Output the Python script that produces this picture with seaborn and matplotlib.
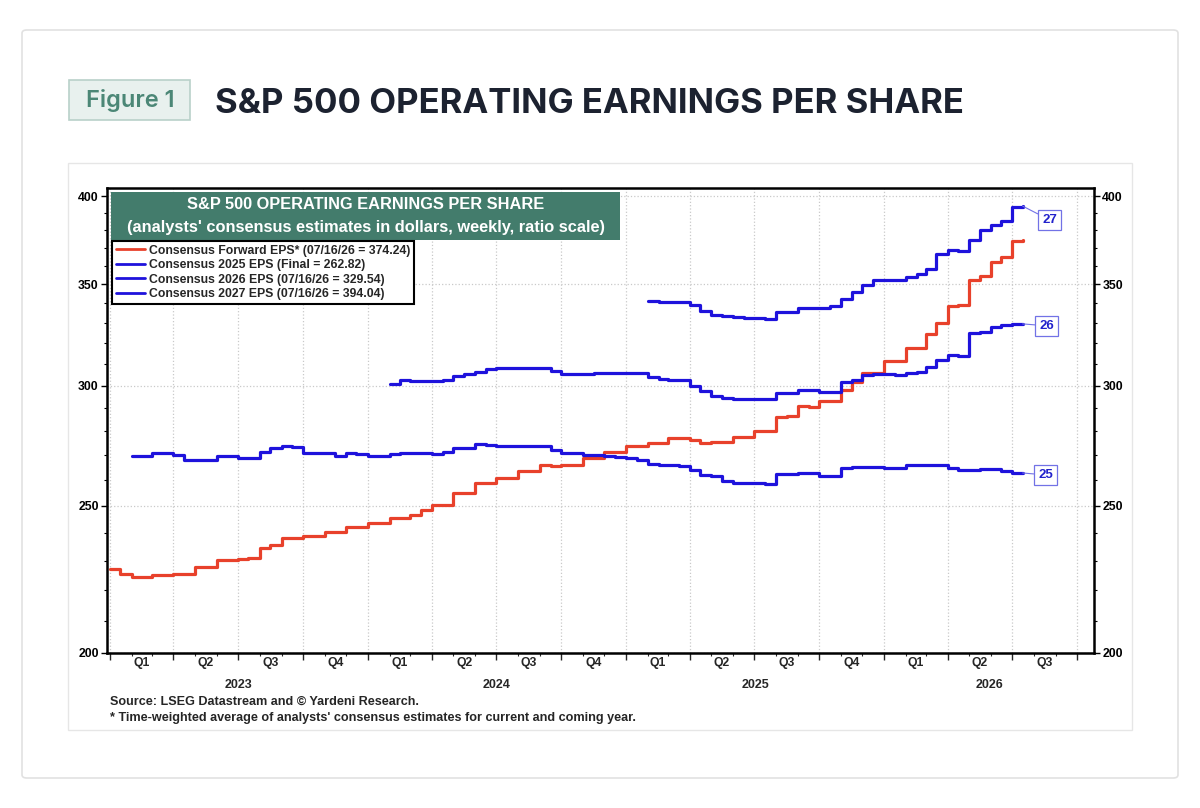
import matplotlib
matplotlib.use('Agg')
import matplotlib.pyplot as plt
import matplotlib.dates as mdates
from matplotlib.patches import Rectangle, FancyBboxPatch
from matplotlib.lines import Line2D
from matplotlib.ticker import FixedLocator, FuncFormatter, NullFormatter
from matplotlib.transforms import blended_transform_factory
import seaborn as sns
import pandas as pd

# --- data: half-month levels (1st / 16th), last value = 07/16/26 reading ---
end_date = '2026-07-16'

fwd_start = '2023-01-01'
fwd_eps = [227.3, 225.5, 224.3, 224.3, 225.0, 225.0, 225.6, 225.6, 227.8, 227.8, 230.4, 230.4,
           230.5, 231.0, 234.5, 235.5, 238.0, 238.0, 239.0, 239.0, 240.3, 240.3, 242.0, 242.0,
           243.5, 243.5, 245.5, 245.5, 246.5, 248.4, 250.4, 250.4, 255.0, 255.0, 259.0, 259.0,
           261.0, 261.0, 263.5, 263.5, 266.0, 265.5, 266.0, 266.0, 268.7, 268.7, 271.5, 271.5,
           273.7, 273.7, 275.0, 275.0, 277.0, 277.0, 276.5, 275.0, 275.5, 275.5, 277.5, 277.5,
           280.0, 280.0, 286.0, 286.5, 291.0, 290.5, 293.0, 293.0, 298.0, 301.5, 306.0, 306.0,
           311.5, 311.5, 317.5, 317.5, 324.5, 330.0, 338.5, 339.0, 352.0, 354.5, 362.0, 364.5,
           373.5, 374.24]

eps25_start = '2023-02-01'
eps25 = [269.8, 269.5, 271.0, 271.0, 270.0, 268.0, 268.0, 268.0, 269.8, 269.8,
         269.0, 269.0, 271.5, 273.0, 274.0, 273.5, 271.0, 271.0, 271.0, 269.5, 271.0, 270.5,
         269.5, 269.5, 270.5, 271.0, 271.0, 270.8, 270.5, 271.5, 273.0, 273.0, 274.5, 274.3,
         274.0, 274.0, 274.0, 274.0, 274.0, 272.0, 270.8, 270.8, 270.0, 270.0, 269.5, 269.2,
         269.0, 268.0, 266.5, 266.0, 266.0, 265.5, 264.0, 262.0, 261.5, 259.5, 259.0, 259.0,
         259.0, 258.5, 262.6, 262.6, 263.0, 263.0, 261.5, 261.5, 265.0, 265.3, 265.3, 265.3,
         265.0, 265.0, 266.0, 266.0, 266.0, 266.0, 265.0, 264.0, 264.0, 264.3, 264.3, 263.5,
         262.8, 262.82]

eps26_start = '2024-02-01'
eps26 = [301.0, 302.5, 302.0, 302.0, 302.3, 302.5, 304.5, 305.5, 306.5, 307.7,
         308.0, 308.0, 308.0, 308.0, 308.3, 307.0, 305.5, 305.5, 305.3, 306.0, 306.0, 306.0,
         306.0, 306.0, 304.0, 303.0, 302.5, 302.5, 300.0, 297.5, 295.5, 294.5, 294.2, 294.2,
         294.2, 294.0, 296.7, 296.7, 298.0, 298.0, 297.3, 297.3, 301.6, 302.5, 305.0, 305.5,
         305.5, 305.0, 306.0, 306.5, 308.8, 312.0, 314.5, 314.0, 325.0, 325.5, 328.0, 329.0,
         329.5, 329.54]

eps27_start = '2025-02-01'
eps27 = [341.0, 340.7, 340.7, 340.5, 339.0, 336.0, 334.0, 333.5, 333.0, 332.5,
         332.5, 332.0, 335.5, 335.5, 337.5, 337.5, 337.5, 338.5, 342.0, 346.0, 349.5, 352.0,
         352.0, 352.0, 354.0, 355.5, 358.0, 366.5, 368.5, 368.0, 374.0, 380.0, 383.0, 385.5,
         393.5, 394.04]

legend_labels = ['Consensus Forward EPS* (07/16/26 = 374.24)',
                 'Consensus 2025 EPS (Final = 262.82)',
                 'Consensus 2026 EPS (07/16/26 = 329.54)',
                 'Consensus 2027 EPS (07/16/26 = 394.04)']
end_tags = ['25', '26', '27']
y_ticks = [200, 250, 300, 350, 400]

RED = '#e8412b'
BLUE = '#1e12dc'
TAG = '#7272e6'


def series_dates(start, values):
    # 1st and 16th of each month, then the final reading date
    d = list(pd.date_range(start, periods=len(values) - 1, freq='SMS-16'))
    return d + [pd.Timestamp(end_date)]


W, H = 1200, 808
sns.set_theme(style='white')
plt.rcParams['font.family'] = ['Liberation Sans', 'DejaVu Sans']

fig = plt.figure(figsize=(W / 100, H / 100), dpi=100)
fig.patch.set_facecolor('white')


def fx(px):
    return px / W


def fy(py):
    return 1 - py / H


# page card + inner image frame (kept behind the axes)
fig.patches.append(FancyBboxPatch((fx(22), fy(778)), fx(1156), 748 / H,
                                  boxstyle='round,pad=0,rounding_size=0.004',
                                  transform=fig.transFigure, fc='white', ec='#e1e1e1', lw=1.2,
                                  zorder=-3))
fig.patches.append(Rectangle((fx(68), fy(730)), fx(1064), 567 / H, transform=fig.transFigure,
                             fc='white', ec='#e6e6e6', lw=1.0, zorder=-2))
fig.patches.append(Rectangle((fx(69), fy(120)), fx(121), 40 / H, transform=fig.transFigure,
                             fc='#e8f1ee', ec='#b9d1c9', lw=1.2, zorder=-2))
fig.text(fx(130), fy(100), 'Figure 1', ha='center', va='center', fontsize=17,
         fontweight='semibold', family=['Inter', 'DejaVu Sans'], color='#4b8776')
fig.text(fx(215), fy(104), 'S&P 500 OPERATING EARNINGS PER SHARE', ha='left', va='center',
         fontsize=25, fontweight='bold', family=['Inter', 'DejaVu Sans'], color='#1c2230')

ax = fig.add_axes([fx(107), fy(653), fx(987), 465 / H])
ax.set_zorder(2)

series = [
    (series_dates(fwd_start, fwd_eps), fwd_eps, RED),
    (series_dates(eps25_start, eps25), eps25, BLUE),
    (series_dates(eps26_start, eps26), eps26, BLUE),
    (series_dates(eps27_start, eps27), eps27, BLUE),
]
for dates, vals, col in series:
    df = pd.DataFrame({'date': dates, 'eps': vals})
    sns.lineplot(data=df, x='date', y='eps', ax=ax, color=col, lw=2.3,
                 drawstyle='steps-post', legend=False, zorder=3)

# axes
ax.set_yscale('log')
ax.set_ylim(200, 405)
ax.yaxis.set_major_locator(FixedLocator(y_ticks))
ax.yaxis.set_major_formatter(FuncFormatter(lambda v, p: f'{v:.0f}'))
ax.yaxis.set_minor_locator(FixedLocator([v for v in range(210, 400, 10) if v % 50]))
ax.yaxis.set_minor_formatter(NullFormatter())
ax.set_xlim(pd.Timestamp('2022-12-28'), pd.Timestamp('2026-10-25'))
ax.xaxis.set_major_locator(mdates.MonthLocator(bymonth=[1, 4, 7, 10]))
ax.xaxis.set_minor_locator(mdates.MonthLocator())
ax.xaxis.set_major_formatter(NullFormatter())
ax.xaxis.set_minor_formatter(NullFormatter())
ax.set_xlabel('')
ax.set_ylabel('')

ax.tick_params(axis='y', which='both', left=True, right=True, labelleft=True, labelright=True,
               direction='out', colors='black', labelsize=8.8, pad=2)
ax.tick_params(axis='y', which='major', length=4, width=1)
ax.tick_params(axis='y', which='minor', length=2.5, width=0.8)
ax.tick_params(axis='x', which='major', bottom=True, length=5, width=1, direction='out')
ax.tick_params(axis='x', which='minor', bottom=True, length=2.5, width=0.8, direction='out')
for lab in ax.get_yticklabels():
    lab.set_fontweight('bold')
ax.grid(True, which='major', color='#c9c9c9', ls=':', lw=0.9)
for s in ax.spines.values():
    s.set_visible(True)
    s.set_color('black')
    s.set_linewidth(1.8)

# quarter and year labels
tr = blended_transform_factory(ax.transData, ax.transAxes)
q_starts = pd.date_range('2023-01-01', '2026-10-01', freq='QS')
for a, b in zip(q_starts[:-1], q_starts[1:]):
    mid = a + (b - a) / 2
    ax.text(mdates.date2num(mid), -0.022, f'Q{a.quarter}', transform=tr, ha='center',
            va='center', fontsize=8.8, fontweight='bold')
x0, x1 = ax.get_xlim()
for yr in [2023, 2024, 2025, 2026]:
    lo = max(x0, mdates.date2num(pd.Timestamp(f'{yr}-01-01')))
    hi = min(x1, mdates.date2num(pd.Timestamp(f'{yr + 1}-01-01')))
    ax.text((lo + hi) / 2, -0.069, str(yr), transform=tr, ha='center', va='center',
            fontsize=9, fontweight='bold')

# header box inside plot
ax.add_patch(Rectangle((0.004, 0.888), 0.516, 0.103, transform=ax.transAxes,
                       fc='#437c6c', ec='none', zorder=5))
ax.text(0.262, 0.965, 'S&P 500 OPERATING EARNINGS PER SHARE', transform=ax.transAxes,
        ha='center', va='center', color='white', fontsize=11.8, fontweight='bold', zorder=6)
ax.text(0.262, 0.915, "(analysts' consensus estimates in dollars, weekly, ratio scale)",
        transform=ax.transAxes, ha='center', va='center', color='white', fontsize=11.8,
        fontweight='bold', zorder=6)

handles = [Line2D([0], [0], color=c, lw=2) for c in [RED, BLUE, BLUE, BLUE]]
leg = ax.legend(handles, legend_labels, loc='upper left', bbox_to_anchor=(0.005, 0.886),
                frameon=True, fancybox=False, edgecolor='black', framealpha=1,
                borderaxespad=0, handlelength=2.4, handletextpad=0.3, labelspacing=0.2,
                borderpad=0.3, prop={'weight': 'bold', 'size': 8.8})
leg.get_frame().set_linewidth(1.5)
leg.set_zorder(7)

# end tags
tag_offsets = [(16.5, -1.4), (17.3, -1.4), (19.4, -10)]
for tag, (dates, vals, _), off in zip(end_tags, series[1:], tag_offsets):
    ax.annotate(tag, xy=(dates[-1], vals[-1]), xytext=off, textcoords='offset points',
                ha='center', va='center', fontsize=9.5, fontweight='bold', color='#2222cc',
                bbox=dict(boxstyle='square,pad=0.3', fc='white', ec=TAG, lw=0.9),
                arrowprops=dict(arrowstyle='-', color=TAG, lw=0.8, shrinkA=0, shrinkB=0),
                zorder=6)

fig.text(fx(110), fy(702), 'Source: LSEG Datastream and \u00a9 Yardeni Research.',
         fontsize=9.1, fontweight='bold', va='center')
fig.text(fx(110), fy(718),
         "* Time-weighted average of analysts' consensus estimates for current and coming year.",
         fontsize=9.1, fontweight='bold', va='center')

fig.savefig('out.png', dpi=100)
